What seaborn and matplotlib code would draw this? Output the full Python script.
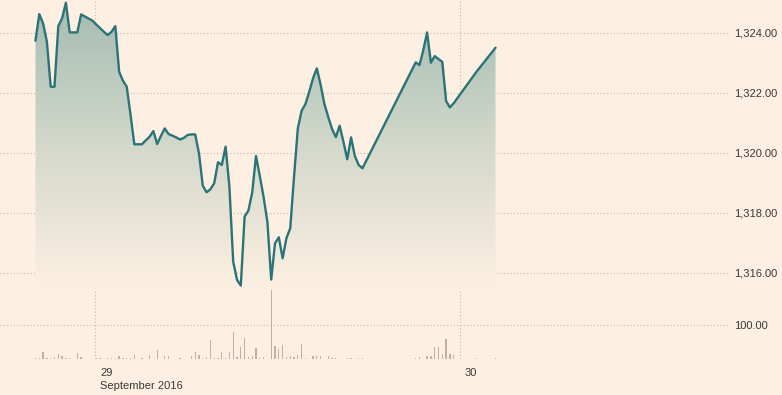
import numpy as np
import pandas as pd
import matplotlib
matplotlib.use("Agg")
import matplotlib.pyplot as plt
import matplotlib.dates as mdates
import matplotlib.transforms as mtransforms
from matplotlib.colors import LinearSegmentedColormap
import seaborn as sns

nan = np.nan

# 15-minute prices, gaps where nothing traded
price = [
    1323.74, 1324.63, 1324.32, 1323.71, 1322.21, 1322.21, 1324.23, 1324.49, 1325.01, 1324.02,
    1324.02, 1324.02, 1324.62, 1324.55, 1324.48, 1324.41, 1324.28, 1324.16, 1324.04, 1323.93,
    1324.04, 1324.23, 1322.71, 1322.41, 1322.21, 1321.27, 1320.29, 1320.29, 1320.29, 1320.42,
    1320.54, 1320.73, 1320.30, 1320.57, 1320.82, 1320.63, 1320.58, 1320.52, 1320.45, 1320.50,
    1320.60, 1320.62, 1320.62, 1319.99, 1318.91, 1318.69, 1318.79, 1318.99, 1319.69, 1319.60,
    1320.21, 1318.88, 1316.38, 1315.77, 1315.58, 1317.88, 1318.08, 1318.68, 1319.90, 1319.23,
    1318.53, 1317.70, 1315.78, 1316.99, 1317.19, 1316.49, 1317.16, 1317.49, 1319.21, 1320.82,
    1321.41, 1321.63, 1322.04, 1322.49, 1322.82, 1322.27, 1321.63, 1321.20, 1320.80, 1320.53,
    1320.91, 1320.37, 1319.79, 1320.52, 1319.90, 1319.60, 1319.49, nan, nan, nan,
    nan, nan, nan, nan, nan, nan, nan, nan, nan, nan,
    1323.02, 1322.93, 1323.43, 1324.02, 1323.01, 1323.23, 1323.13, 1323.04, 1321.73, 1321.52,
    1321.66, nan, nan, nan, nan, nan, 1322.71, nan, nan, nan,
    nan, 1323.51,
]

volume = [
    2, 4, 21, 3, 3, 5, 15, 8, 2, 2,
    0, 17, 5, 0, 0, 0, 2, 2, 0, 2,
    2, 2, 8, 2, 4, 4, 11, 0, 2, 0,
    13, 0, 25, 0, 10, 10, 0, 0, 2, 0,
    0, 8, 19, 12, 3, 6, 54, 2, 2, 21,
    2, 19, 79, 5, 35, 60, 6, 10, 31, 2,
    6, 0, 205, 38, 29, 41, 6, 8, 5, 11,
    44, 3, 0, 10, 8, 8, 0, 8, 3, 3,
    0, 0, 3, 3, 0, 3, 3, 0, 0, 0,
    0, 0, 0, 0, 0, 0, 0, 0, 0, 0,
    2, 5, 0, 8, 8, 36, 34, 14, 58, 14,
    11, 0, 0, 0, 0, 0, 2, 0, 0, 0,
    0, 2,
]

start_time = "2016-09-28 20:05"
x_start = "2016-09-28 17:45"
x_end = "2016-09-30 17:45"
price_ticks = [1316, 1318, 1320, 1322, 1324]
vol_ticks = [100]
day_ticks = ["2016-09-29", "2016-09-30"]
day_labels = ["29\nSeptember 2016", "30"]

bg = "#fdf0e2"
line_col = "#2a7478"
bar_col = "#c4b09c"
grid_col = "#c2b8ad"
txt_col = "#3a3836"

times = pd.date_range(start_time, periods=len(price), freq="15min")
df = pd.DataFrame({"time": times, "price": price, "volume": volume})
px = df.dropna(subset=["price"])

sns.set_style("white")
plt.rcParams["font.family"] = ["Liberation Sans", "DejaVu Sans"]
plt.rcParams["font.size"] = 8

W, H = 782, 395


def box(x0, y0, x1, y1):
    return [x0 / W, 1 - y1 / H, (x1 - x0) / W, (y1 - y0) / H]


fig = plt.figure(figsize=(W / 100, H / 100), dpi=100, facecolor=bg)
ax_base = fig.add_axes(box(0, 0, 730, 359))
ax_vol = fig.add_axes(box(0, 280, 730, 359))
ax_price = fig.add_axes(box(0, 0, 730, 290))

xlim = (pd.Timestamp(x_start), pd.Timestamp(x_end))
dots = (0, (1, 2))

# base axes: vertical day grid + date labels
ax_base.set_facecolor(bg)
ax_base.set_xlim(xlim)
ax_base.set_ylim(0, 1)
ax_base.set_yticks([])
ax_base.set_xticks(pd.to_datetime(day_ticks))
ax_base.set_xticklabels(day_labels, ha="left", va="top", linespacing=1.4,
                        fontsize=8, color=txt_col)
ax_base.tick_params(axis="x", length=5, width=0.8, color="#a59d95", pad=1.5)
ax_base.grid(axis="x", color=grid_col, linestyle=dots, linewidth=0.8)
offset = mtransforms.ScaledTranslation(0.05, 0, fig.dpi_scale_trans)
for lab in ax_base.get_xticklabels():
    lab.set_transform(lab.get_transform() + offset)
for s in ax_base.spines.values():
    s.set_visible(False)

# volume
ax_vol.set_facecolor("none")
ax_vol.bar(df["time"], df["volume"], width=5 / 1440, color=bar_col,
           linewidth=0, antialiased=False)
ax_vol.set_xlim(xlim)
ax_vol.set_ylim(0, 229)
ax_vol.set_xticks([])
ax_vol.yaxis.tick_right()
ax_vol.set_yticks(vol_ticks)
ax_vol.set_yticklabels([f"{v:,.2f}" for v in vol_ticks], color=txt_col, fontsize=8)
ax_vol.tick_params(axis="y", length=0, pad=3)
ax_vol.grid(axis="y", color=grid_col, linestyle=dots, linewidth=0.8)
ax_vol.grid(axis="x", visible=False)
for s in ax_vol.spines.values():
    s.set_visible(False)

# price with gradient fill
ax_price.set_facecolor("none")
ybot, ytop = 1315.433, 1325.1
poly = ax_price.fill_between(px["time"], px["price"], ybot, color="none", linewidth=0)
cmap = LinearSegmentedColormap.from_list("fade", ["#a3bbb2", "#d3d8cb", bg])
grad = np.linspace(0, 1, 256).reshape(-1, 1)
x0 = mdates.date2num(px["time"].iloc[0])
x1 = mdates.date2num(px["time"].iloc[-1])
img = ax_price.imshow(grad, cmap=cmap, aspect="auto", origin="upper",
                      extent=[x0, x1, ybot, ytop], zorder=1)
img.set_clip_path(poly.get_paths()[0], transform=ax_price.transData)
sns.lineplot(data=px, x="time", y="price", ax=ax_price, color=line_col,
             linewidth=1.7, zorder=3)
ax_price.set_xlim(xlim)
ax_price.set_ylim(ybot, ytop)
ax_price.set_xlabel("")
ax_price.set_ylabel("")
ax_price.set_xticks([])
ax_price.yaxis.tick_right()
ax_price.set_yticks(price_ticks)
ax_price.set_yticklabels([f"{v:,.2f}" for v in price_ticks], color=txt_col, fontsize=8)
ax_price.tick_params(axis="y", length=0, pad=3)
ax_price.grid(axis="y", color=grid_col, linestyle=dots, linewidth=0.8)
ax_price.grid(axis="x", visible=False)
for s in ax_price.spines.values():
    s.set_visible(False)

fig.savefig("out.png", dpi=100, facecolor=bg)
